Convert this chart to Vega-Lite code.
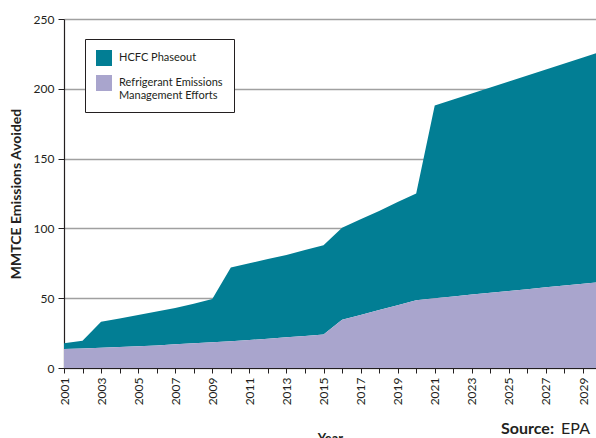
{
  "$schema": "https://vega.github.io/schema/vega-lite/v6.json",
  "width": 532,
  "height": 349,
  "autosize": {"type": "none"},
  "padding": {"left": 64, "top": 19, "right": 0, "bottom": 70},
  "background": "white",
  "config": {
    "font": "Lato",
    "view": {"stroke": null},
    "axis": {"labelFont": "Lato", "titleFont": "Lato"}
  },
  "title": {
    "text": "Source:\u2003\u2003\u2002\u2009\u2009\u200d",
    "subtitle": "EPA",
    "orient": "bottom",
    "anchor": "end",
    "frame": "group",
    "offset": -25,
    "dx": -6,
    "fontSize": 16,
    "fontWeight": "bold",
    "color": "#231f20",
    "subtitleFontSize": 16,
    "subtitleFontWeight": "normal",
    "subtitleColor": "#231f20",
    "subtitlePadding": -16,
    "subtitleFont": "Lato",
    "font": "Lato"
  },
  "data": {
    "values": [
      {"year": 2001, "r": 13.6, "h": 4.1},
      {"year": 2002, "r": 14.0, "h": 5.6},
      {"year": 2003, "r": 14.5, "h": 18.7},
      {"year": 2004, "r": 15.0, "h": 20.5},
      {"year": 2005, "r": 15.5, "h": 22.5},
      {"year": 2006, "r": 16.2, "h": 24.3},
      {"year": 2007, "r": 17.0, "h": 26.0},
      {"year": 2008, "r": 17.7, "h": 28.3},
      {"year": 2009, "r": 18.5, "h": 31.0},
      {"year": 2010, "r": 19.2, "h": 52.8},
      {"year": 2011, "r": 20.0, "h": 55.0},
      {"year": 2012, "r": 21.0, "h": 57.0},
      {"year": 2013, "r": 22.0, "h": 59.0},
      {"year": 2014, "r": 23.0, "h": 61.5},
      {"year": 2015, "r": 24.0, "h": 64.0},
      {"year": 2016, "r": 34.5, "h": 66.0},
      {"year": 2017, "r": 38.0, "h": 68.5},
      {"year": 2018, "r": 41.5, "h": 71.0},
      {"year": 2019, "r": 45.0, "h": 74.0},
      {"year": 2020, "r": 48.5, "h": 76.5},
      {"year": 2021, "r": 50.0, "h": 138.0},
      {"year": 2022, "r": 51.3, "h": 141.0},
      {"year": 2023, "r": 52.6, "h": 144.0},
      {"year": 2024, "r": 53.9, "h": 147.0},
      {"year": 2025, "r": 55.2, "h": 150.0},
      {"year": 2026, "r": 56.5, "h": 153.0},
      {"year": 2027, "r": 57.8, "h": 156.0},
      {"year": 2028, "r": 59.1, "h": 159.0},
      {"year": 2029, "r": 60.4, "h": 162.0},
      {"year": 2030, "r": 61.7, "h": 165.0}
    ]
  },
  "transform": [
    {"fold": ["h", "r"], "as": ["key", "value"]},
    {"lookup": "key", "from": {"data": {"values": [
      {"key": "h", "series": "HCFC Phaseout", "ord": 2},
      {"key": "r", "series": "Refrigerant Emissions Management Efforts", "ord": 1}
    ]}, "key": "key", "fields": ["series", "ord"]}}
  ],
  "mark": {"type": "area", "clip": true, "interpolate": "linear"},
  "encoding": {
    "x": {
      "field": "year",
      "type": "quantitative",
      "scale": {"domain": [2001, 2029.7], "nice": false, "zero": false},
      "axis": {
        "values": [2001,2002,2003,2004,2005,2006,2007,2008,2009,2010,2011,2012,2013,2014,2015,2016,2017,2018,2019,2020,2021,2022,2023,2024,2025,2026,2027,2028,2029],
        "labelExpr": "datum.value % 2 == 1 ? datum.value : ''",
        "labelAngle": -90,
        "labelAlign": "right",
        "labelBaseline": "middle",
        "labelFontSize": 12,
        "labelColor": "#231f20",
        "labelPadding": 4,
        "labelOverlap": false,
        "labelFlush": false,
        "tickSize": 5,
        "tickColor": "#231f20",
        "tickWidth": 1,
        "domainColor": "#231f20",
        "domainWidth": 1.2,
        "grid": false,
        "title": "Year",
        "titleFontSize": 13,
        "titleFontWeight": "bold",
        "titleColor": "#231f20",
        "titlePadding": 28
      }
    },
    "y": {
      "field": "value",
      "type": "quantitative",
      "stack": "zero",
      "scale": {"domain": [0, 250], "nice": false},
      "axis": {
        "values": [0, 50, 100, 150, 200, 250],
        "labelFontSize": 12,
        "labelColor": "#231f20",
        "labelPadding": 4,
        "tickSize": 6,
        "tickColor": "#231f20",
        "domainColor": "#231f20",
        "domainWidth": 1.2,
        "gridColor": "#a0a0a0",
        "gridWidth": 1.5,
        "title": "MMTCE Emissions Avoided",
        "titleFontSize": 14,
        "titleFontWeight": "bold",
        "titleColor": "#231f20",
        "titlePadding": 10
      }
    },
    "color": {
      "field": "series",
      "type": "nominal",
      "scale": {
        "domain": ["HCFC Phaseout", "Refrigerant Emissions Management Efforts"],
        "range": ["#027e94", "#a9a5cd"]
      },
      "legend": {
        "title": null,
        "orient": "none",
        "legendX": 21,
        "legendY": 20,
        "symbolType": "square",
        "symbolSize": 256,
        "symbolStrokeWidth": 0,
        "labelFontSize": 11,
        "labelColor": "#231f20",
        "labelOffset": 7,
        "rowPadding": 9,
        "padding": 11,
        "strokeColor": "#231f20",
        "fillColor": "white",
        "labelExpr": "datum.label == 'Refrigerant Emissions Management Efforts' ? ['Refrigerant Emissions', 'Management Efforts'] : datum.label",
        "labelLimit": 200
      }
    },
    "order": {"field": "ord", "type": "quantitative"}
  }
}
